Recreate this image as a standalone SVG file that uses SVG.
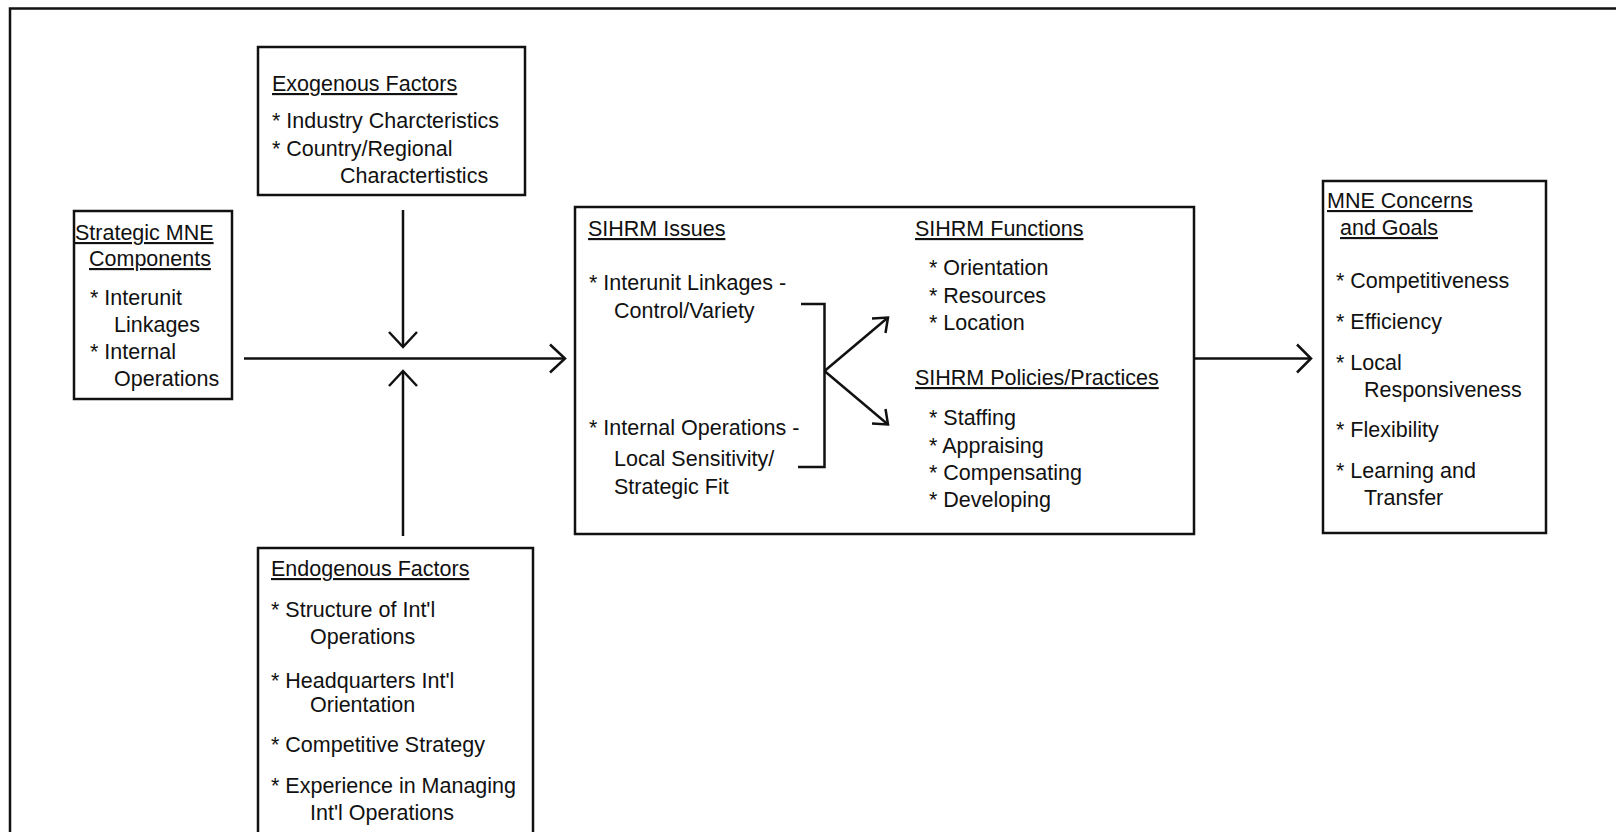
<svg xmlns="http://www.w3.org/2000/svg" width="1616" height="832" viewBox="0 0 1616 832">
  <style>
    text { font-family: "Liberation Sans", Arial, sans-serif; font-size: 21.5px; fill: #111; }
    .head { text-decoration: underline; }
    .box { fill: #fff; stroke: #111; stroke-width: 2.5; }
    .line { fill: none; stroke: #111; stroke-width: 2.5; }
    .head-v { fill: none; stroke: #111; stroke-width: 2.5; stroke-linejoin: miter; }
  </style>
  <rect width="1616" height="832" fill="#fff"/>

  <!-- outer frame, open to the right and bottom -->
  <path class="line" d="M10,840 L10,8.5 L1620,8.5"/>

  <g id="exogenous">
    <rect class="box" x="258" y="47" width="267" height="148"/>
    <text class="head" x="272" y="91">Exogenous Factors</text>
    <text x="272" y="128">* Industry Charcteristics</text>
    <text x="272" y="156">* Country/Regional</text>
    <text x="340" y="183">Charactertistics</text>
  </g>

  <g id="strategic">
    <rect class="box" x="74" y="211" width="158" height="188"/>
    <text class="head" x="75" y="240">Strategic MNE</text>
    <text class="head" x="89" y="266">Components</text>
    <text x="90" y="305">* Interunit</text>
    <text x="114" y="332">Linkages</text>
    <text x="90" y="359">* Internal</text>
    <text x="114" y="386">Operations</text>
  </g>

  <g id="endogenous">
    <path class="box" d="M258,840 L258,548 L533,548 L533,840"/>
    <text class="head" x="271" y="576">Endogenous Factors</text>
    <text x="271" y="617">* Structure of Int'l</text>
    <text x="310" y="644">Operations</text>
    <text x="271" y="688">* Headquarters Int'l</text>
    <text x="310" y="712">Orientation</text>
    <text x="271" y="752">* Competitive Strategy</text>
    <text x="271" y="793">* Experience in Managing</text>
    <text x="310" y="820">Int'l Operations</text>
  </g>

  <g id="sihrm">
    <rect class="box" x="575" y="207" width="619" height="327"/>
    <text class="head" x="588" y="236">SIHRM Issues</text>
    <text x="589" y="290">* Interunit Linkages -</text>
    <text x="614" y="318">Control/Variety</text>
    <text x="589" y="435">* Internal Operations -</text>
    <text x="614" y="466">Local Sensitivity/</text>
    <text x="614" y="494">Strategic Fit</text>

    <text class="head" x="915" y="236">SIHRM Functions</text>
    <text x="929" y="275">* Orientation</text>
    <text x="929" y="303">* Resources</text>
    <text x="929" y="330">* Location</text>
    <text class="head" x="915" y="385">SIHRM Policies/Practices</text>
    <text x="929" y="425">* Staffing</text>
    <text x="929" y="453">* Appraising</text>
    <text x="929" y="480">* Compensating</text>
    <text x="929" y="507">* Developing</text>

    <!-- bracket joining the two issues, splitting into two arrows -->
    <path class="line" d="M801,304 L824.5,304 L824.5,467 L798,467"/>
    <path class="line" d="M824.5,371 L888,317.5"/>
    <path class="head-v" d="M872,318.5 L888,317.5 L885.5,333"/>
    <path class="line" d="M824.5,371 L888,424.5"/>
    <path class="head-v" d="M885.5,409 L888,424.5 L872,423.5"/>
  </g>

  <g id="concerns">
    <rect class="box" x="1323" y="181" width="223" height="352"/>
    <text class="head" x="1327" y="208">MNE Concerns</text>
    <text class="head" x="1340" y="235">and Goals</text>
    <text x="1336" y="288">* Competitiveness</text>
    <text x="1336" y="329">* Efficiency</text>
    <text x="1336" y="370">* Local</text>
    <text x="1364" y="397">Responsiveness</text>
    <text x="1336" y="437">* Flexibility</text>
    <text x="1336" y="478">* Learning and</text>
    <text x="1364" y="505">Transfer</text>
  </g>

  <g id="connectors">
    <!-- exogenous factors down onto the main flow -->
    <path class="line" d="M403,210 L403,347"/>
    <path class="head-v" d="M389,332 L403,347 L417,332"/>
    <!-- endogenous factors up onto the main flow -->
    <path class="line" d="M403,536 L403,371"/>
    <path class="head-v" d="M389,386 L403,371 L417,386"/>
    <!-- strategic components to SIHRM -->
    <path class="line" d="M244,358.5 L565,358.5"/>
    <path class="head-v" d="M550,344.5 L565,358.5 L550,372.5"/>
    <!-- SIHRM to concerns and goals -->
    <path class="line" d="M1194,358.5 L1311,358.5"/>
    <path class="head-v" d="M1297,344.5 L1311,358.5 L1297,372.5"/>
  </g>
</svg>
